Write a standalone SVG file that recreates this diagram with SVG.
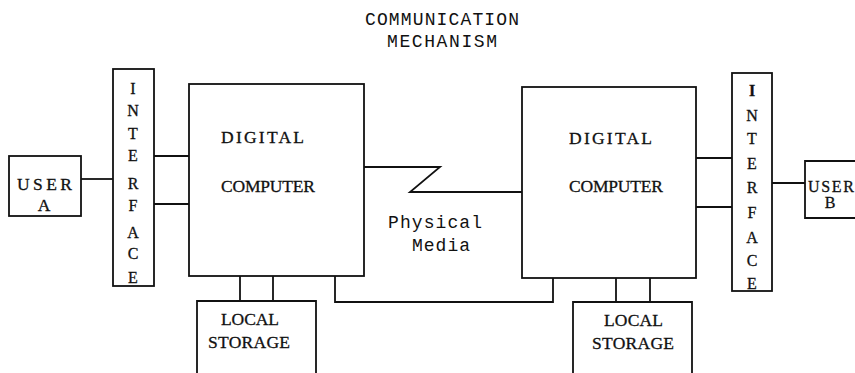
<svg xmlns="http://www.w3.org/2000/svg" width="855" height="373" viewBox="0 0 855 373">
  <style>
    .box { fill: none; stroke: #111; stroke-width: 1.8; }
    .wire { fill: none; stroke: #111; stroke-width: 1.8; stroke-linejoin: miter; }
    .lbl { font-family: "Liberation Serif", "DejaVu Serif", serif; font-size: 17.5px; fill: #111; stroke: #111; stroke-width: 0.3; }
    .mono { font-family: "Liberation Mono", "DejaVu Sans Mono", monospace; font-size: 18px; fill: #111; }
    .vert { font-family: "Liberation Serif", "DejaVu Serif", serif; font-size: 16px; fill: #111; stroke: #111; stroke-width: 0.3; text-anchor: middle; }
    .small { font-size: 16px; }
  </style>
  <rect width="855" height="373" fill="#fff"/>

  <!-- title -->
  <g id="title">
    <text class="mono" x="365" y="25" textLength="154" lengthAdjust="spacing">COMMUNICATION</text>
    <text class="mono" x="387" y="47" textLength="110" lengthAdjust="spacing">MECHANISM</text>
  </g>

  <!-- connectors -->
  <g id="connectors">
    <!-- user A to interface -->
    <line class="wire" x1="81" y1="179" x2="113" y2="179"/>
    <!-- left interface to computer -->
    <line class="wire" x1="154" y1="156" x2="189" y2="156"/>
    <line class="wire" x1="154" y1="204" x2="189" y2="204"/>
    <!-- physical media link with break -->
    <polyline class="wire" points="364,167 440,167 410,192 522,192"/>
    <!-- bottom link between computers -->
    <polyline class="wire" points="335,276 335,302 553,302 553,278"/>
    <!-- computer to local storage, left -->
    <line class="wire" x1="240" y1="276" x2="240" y2="301"/>
    <line class="wire" x1="273" y1="276" x2="273" y2="301"/>
    <!-- computer to local storage, right -->
    <line class="wire" x1="616" y1="278" x2="616" y2="302"/>
    <line class="wire" x1="650" y1="278" x2="650" y2="302"/>
    <!-- right computer to interface -->
    <line class="wire" x1="696" y1="158" x2="732" y2="158"/>
    <line class="wire" x1="696" y1="207" x2="732" y2="207"/>
    <!-- interface to user B -->
    <line class="wire" x1="772" y1="183" x2="805" y2="183"/>
  </g>

  <g id="user-a">
    <rect class="box" x="9" y="156" width="72" height="60"/>
    <text class="lbl" x="17" y="190" textLength="55" lengthAdjust="spacing">USER</text>
    <text class="lbl" x="44" y="211" text-anchor="middle">A</text>
  </g>

  <g id="interface-left">
    <rect class="box" x="113" y="69" width="41" height="217"/>
    <text class="vert" x="133" y="94">I</text>
    <text class="vert" x="133" y="116">N</text>
    <text class="vert" x="133" y="139">T</text>
    <text class="vert" x="133" y="161">E</text>
    <text class="vert" x="133" y="189">R</text>
    <text class="vert" x="133" y="211">F</text>
    <text class="vert" x="133" y="238">A</text>
    <text class="vert" x="133" y="259">C</text>
    <text class="vert" x="133" y="283">E</text>
  </g>

  <g id="computer-left">
    <rect class="box" x="189" y="84" width="175" height="192"/>
    <text class="lbl" x="221" y="143" textLength="83" lengthAdjust="spacing">DIGITAL</text>
    <text class="lbl" x="221" y="192" textLength="94" lengthAdjust="spacing">COMPUTER</text>
  </g>

  <g id="storage-left">
    <polyline class="box" points="197,373 197,301 316,301 316,373"/>
    <text class="lbl" x="221" y="325" textLength="58" lengthAdjust="spacing">LOCAL</text>
    <text class="lbl" x="208" y="348" textLength="82" lengthAdjust="spacing">STORAGE</text>
  </g>

  <g id="physical-media">
    <text class="mono" x="388" y="228" textLength="94" lengthAdjust="spacing">Physical</text>
    <text class="mono" x="412" y="251" textLength="58" lengthAdjust="spacing">Media</text>
  </g>

  <g id="computer-right">
    <rect class="box" x="522" y="87" width="174" height="191"/>
    <text class="lbl" x="569" y="144" textLength="83" lengthAdjust="spacing">DIGITAL</text>
    <text class="lbl" x="569" y="192" textLength="94" lengthAdjust="spacing">COMPUTER</text>
  </g>

  <g id="storage-right">
    <polyline class="box" points="573,373 573,302 692,302 692,373"/>
    <text class="lbl" x="604" y="326" textLength="59" lengthAdjust="spacing">LOCAL</text>
    <text class="lbl" x="592" y="349" textLength="82" lengthAdjust="spacing">STORAGE</text>
  </g>

  <g id="interface-right">
    <rect class="box" x="732" y="73" width="40" height="218"/>
    <text class="vert" x="752" y="96" font-weight="bold">I</text>
    <text class="vert" x="752" y="121">N</text>
    <text class="vert" x="752" y="144">T</text>
    <text class="vert" x="752" y="169">E</text>
    <text class="vert" x="752" y="193">R</text>
    <text class="vert" x="752" y="218">F</text>
    <text class="vert" x="752" y="243">A</text>
    <text class="vert" x="752" y="266">C</text>
    <text class="vert" x="752" y="289">E</text>
  </g>

  <g id="user-b">
    <polyline class="box" points="856,161 805,161 805,218 856,218"/>
    <text class="lbl small" x="808" y="192" textLength="46" lengthAdjust="spacing">USER</text>
    <text class="lbl small" x="830" y="208" text-anchor="middle">B</text>
  </g>
</svg>
